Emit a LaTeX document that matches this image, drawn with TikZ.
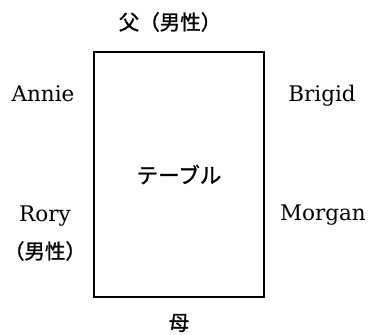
\documentclass[tikz,border=0pt]{standalone}
\usepackage{fontspec}
\newfontfamily\cjk[FakeBold=1.2]{Noto Sans CJK JP}
\newfontfamily\latinserif{DejaVu Serif}
\begin{document}
\begin{tikzpicture}[x=1pt,y=-1pt,
  latin/.style={font=\latinserif\fontsize{21.5}{21.5}\selectfont, inner sep=0pt, anchor=base},
  jp/.style={font=\cjk\fontsize{20.5}{20.5}\selectfont, inner sep=0pt},
  tablebox/.style={draw, line width=1.2pt, minimum width=170pt, minimum height=245pt,
    font=\cjk\fontsize{21.5}{21.5}\selectfont, inner sep=0pt}]
\useasboundingbox (0,0) rectangle (368,335);
\node[tablebox] (table) at (179,174.5) {テーブル};
\node[jp] (father) at (170,22) {父（男性）};
\node[latin] (annie) at (43,101) {Annie};
\node[latin] (brigid) at (322,101) {Brigid};
\node[latin] (rory) at (45,221) {Rory};
\node[jp] (rorysex) at (45,251) {（男性）};
\node[latin] (morgan) at (323,220) {Morgan};
\node[jp] (mother) at (179,323) {母};
\end{tikzpicture}
\end{document}
